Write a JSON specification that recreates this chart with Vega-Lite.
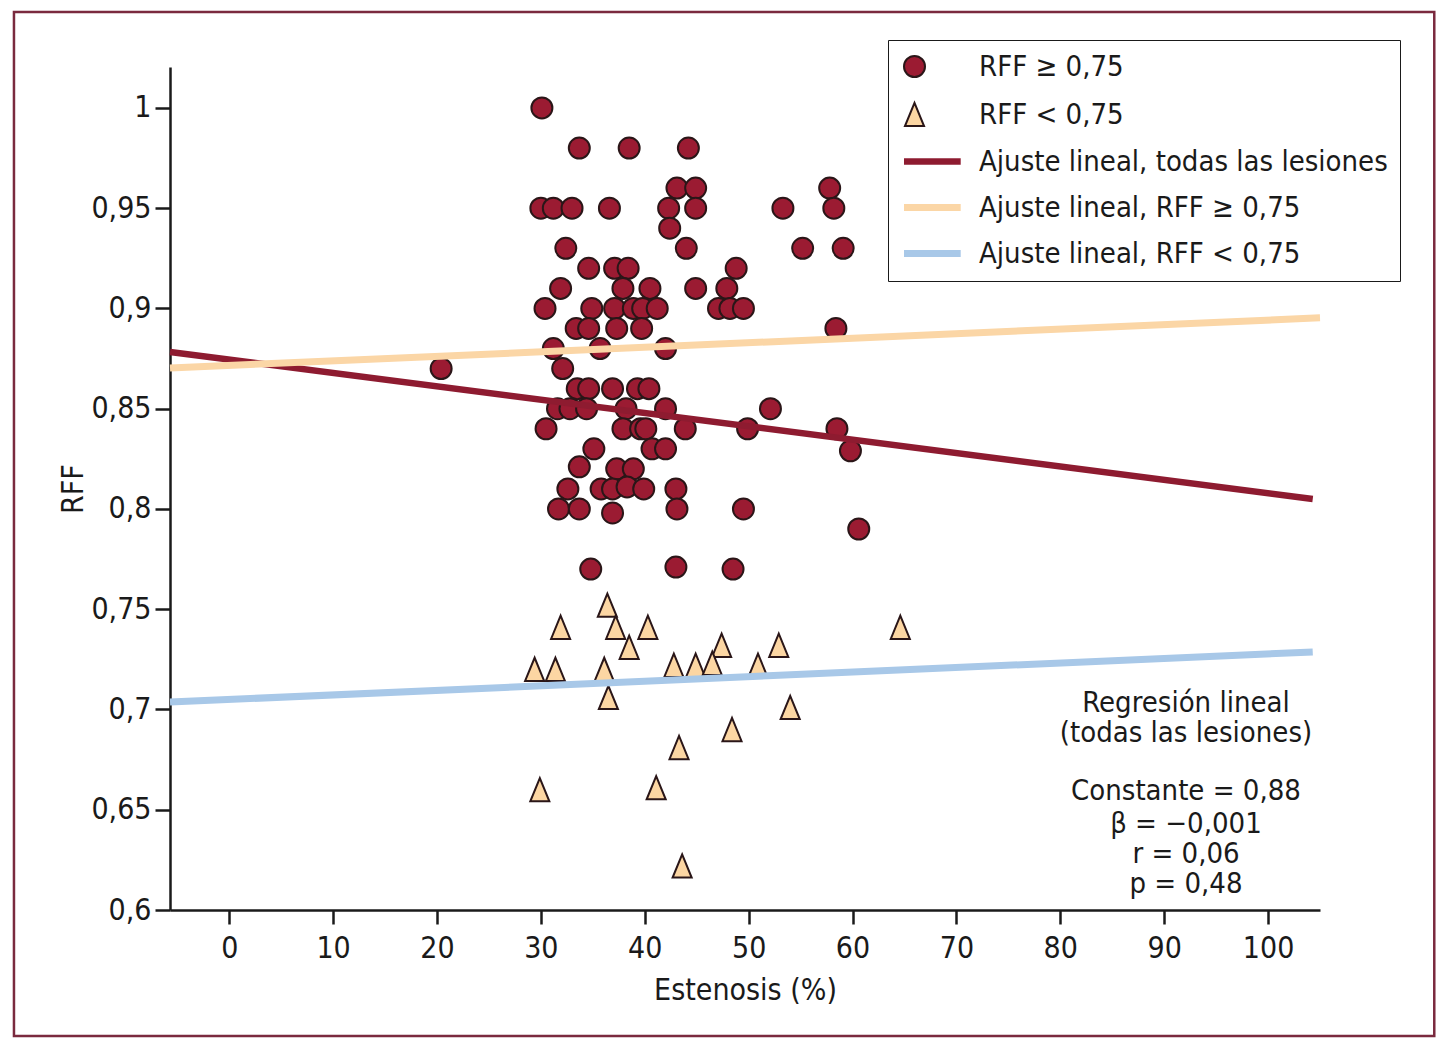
{
  "$schema": "https://vega.github.io/schema/vega-lite/v6.json",
  "width": 1150,
  "height": 843,
  "autosize": "none",
  "padding": {"left": 170, "top": 67, "right": 130, "bottom": 144},
  "background": "white",
  "datasets": {
    "points": [
      {"x":30.1,"y":1.00,"g":"RFF ≥ 0,75"},
      {"x":33.7,"y":0.98,"g":"RFF ≥ 0,75"},{"x":38.5,"y":0.98,"g":"RFF ≥ 0,75"},{"x":44.2,"y":0.98,"g":"RFF ≥ 0,75"},
      {"x":43.1,"y":0.96,"g":"RFF ≥ 0,75"},{"x":44.9,"y":0.96,"g":"RFF ≥ 0,75"},{"x":57.8,"y":0.96,"g":"RFF ≥ 0,75"},
      {"x":30.0,"y":0.95,"g":"RFF ≥ 0,75"},{"x":31.2,"y":0.95,"g":"RFF ≥ 0,75"},{"x":33.0,"y":0.95,"g":"RFF ≥ 0,75"},{"x":36.6,"y":0.95,"g":"RFF ≥ 0,75"},{"x":42.3,"y":0.95,"g":"RFF ≥ 0,75"},{"x":44.9,"y":0.95,"g":"RFF ≥ 0,75"},{"x":53.3,"y":0.95,"g":"RFF ≥ 0,75"},{"x":58.2,"y":0.95,"g":"RFF ≥ 0,75"},
      {"x":42.4,"y":0.94,"g":"RFF ≥ 0,75"},
      {"x":32.4,"y":0.93,"g":"RFF ≥ 0,75"},{"x":44.0,"y":0.93,"g":"RFF ≥ 0,75"},{"x":55.2,"y":0.93,"g":"RFF ≥ 0,75"},{"x":59.1,"y":0.93,"g":"RFF ≥ 0,75"},
      {"x":34.6,"y":0.92,"g":"RFF ≥ 0,75"},{"x":37.1,"y":0.92,"g":"RFF ≥ 0,75"},{"x":38.4,"y":0.92,"g":"RFF ≥ 0,75"},{"x":48.8,"y":0.92,"g":"RFF ≥ 0,75"},
      {"x":31.9,"y":0.91,"g":"RFF ≥ 0,75"},{"x":37.9,"y":0.91,"g":"RFF ≥ 0,75"},{"x":40.5,"y":0.91,"g":"RFF ≥ 0,75"},{"x":44.9,"y":0.91,"g":"RFF ≥ 0,75"},{"x":47.9,"y":0.91,"g":"RFF ≥ 0,75"},
      {"x":30.4,"y":0.90,"g":"RFF ≥ 0,75"},{"x":34.9,"y":0.90,"g":"RFF ≥ 0,75"},{"x":37.1,"y":0.90,"g":"RFF ≥ 0,75"},{"x":38.9,"y":0.90,"g":"RFF ≥ 0,75"},{"x":39.8,"y":0.90,"g":"RFF ≥ 0,75"},{"x":41.2,"y":0.90,"g":"RFF ≥ 0,75"},{"x":47.1,"y":0.90,"g":"RFF ≥ 0,75"},{"x":48.2,"y":0.90,"g":"RFF ≥ 0,75"},{"x":49.5,"y":0.90,"g":"RFF ≥ 0,75"},
      {"x":33.4,"y":0.89,"g":"RFF ≥ 0,75"},{"x":34.6,"y":0.89,"g":"RFF ≥ 0,75"},{"x":37.3,"y":0.89,"g":"RFF ≥ 0,75"},{"x":39.7,"y":0.89,"g":"RFF ≥ 0,75"},{"x":58.4,"y":0.89,"g":"RFF ≥ 0,75"},
      {"x":31.2,"y":0.88,"g":"RFF ≥ 0,75"},{"x":35.7,"y":0.88,"g":"RFF ≥ 0,75"},{"x":42.0,"y":0.88,"g":"RFF ≥ 0,75"},
      {"x":20.4,"y":0.87,"g":"RFF ≥ 0,75"},{"x":32.1,"y":0.87,"g":"RFF ≥ 0,75"},
      {"x":33.5,"y":0.86,"g":"RFF ≥ 0,75"},{"x":34.6,"y":0.86,"g":"RFF ≥ 0,75"},{"x":36.9,"y":0.86,"g":"RFF ≥ 0,75"},{"x":39.3,"y":0.86,"g":"RFF ≥ 0,75"},{"x":40.4,"y":0.86,"g":"RFF ≥ 0,75"},
      {"x":31.6,"y":0.85,"g":"RFF ≥ 0,75"},{"x":32.8,"y":0.85,"g":"RFF ≥ 0,75"},{"x":34.4,"y":0.85,"g":"RFF ≥ 0,75"},{"x":38.2,"y":0.85,"g":"RFF ≥ 0,75"},{"x":42.0,"y":0.85,"g":"RFF ≥ 0,75"},{"x":52.1,"y":0.85,"g":"RFF ≥ 0,75"},
      {"x":30.5,"y":0.84,"g":"RFF ≥ 0,75"},{"x":37.9,"y":0.84,"g":"RFF ≥ 0,75"},{"x":39.6,"y":0.84,"g":"RFF ≥ 0,75"},{"x":40.1,"y":0.84,"g":"RFF ≥ 0,75"},{"x":43.9,"y":0.84,"g":"RFF ≥ 0,75"},{"x":49.9,"y":0.84,"g":"RFF ≥ 0,75"},{"x":58.5,"y":0.84,"g":"RFF ≥ 0,75"},
      {"x":35.1,"y":0.83,"g":"RFF ≥ 0,75"},{"x":40.7,"y":0.83,"g":"RFF ≥ 0,75"},{"x":42.0,"y":0.83,"g":"RFF ≥ 0,75"},{"x":59.8,"y":0.829,"g":"RFF ≥ 0,75"},
      {"x":33.7,"y":0.821,"g":"RFF ≥ 0,75"},{"x":37.3,"y":0.82,"g":"RFF ≥ 0,75"},{"x":38.9,"y":0.82,"g":"RFF ≥ 0,75"},
      {"x":32.6,"y":0.81,"g":"RFF ≥ 0,75"},{"x":35.8,"y":0.81,"g":"RFF ≥ 0,75"},{"x":36.9,"y":0.81,"g":"RFF ≥ 0,75"},{"x":38.3,"y":0.811,"g":"RFF ≥ 0,75"},{"x":39.9,"y":0.81,"g":"RFF ≥ 0,75"},{"x":43.0,"y":0.81,"g":"RFF ≥ 0,75"},
      {"x":31.7,"y":0.80,"g":"RFF ≥ 0,75"},{"x":33.7,"y":0.80,"g":"RFF ≥ 0,75"},{"x":36.9,"y":0.798,"g":"RFF ≥ 0,75"},{"x":43.1,"y":0.80,"g":"RFF ≥ 0,75"},{"x":49.5,"y":0.80,"g":"RFF ≥ 0,75"},
      {"x":60.6,"y":0.79,"g":"RFF ≥ 0,75"},
      {"x":34.8,"y":0.77,"g":"RFF ≥ 0,75"},{"x":43.0,"y":0.771,"g":"RFF ≥ 0,75"},{"x":48.5,"y":0.77,"g":"RFF ≥ 0,75"},
      {"x":36.4,"y":0.752,"g":"RFF < 0,75"},
      {"x":31.9,"y":0.741,"g":"RFF < 0,75"},{"x":37.2,"y":0.741,"g":"RFF < 0,75"},{"x":40.3,"y":0.741,"g":"RFF < 0,75"},{"x":64.6,"y":0.741,"g":"RFF < 0,75"},
      {"x":38.5,"y":0.731,"g":"RFF < 0,75"},{"x":47.4,"y":0.732,"g":"RFF < 0,75"},{"x":52.9,"y":0.732,"g":"RFF < 0,75"},
      {"x":29.4,"y":0.72,"g":"RFF < 0,75"},{"x":31.4,"y":0.72,"g":"RFF < 0,75"},{"x":36.1,"y":0.72,"g":"RFF < 0,75"},{"x":42.8,"y":0.722,"g":"RFF < 0,75"},{"x":44.9,"y":0.722,"g":"RFF < 0,75"},{"x":46.5,"y":0.723,"g":"RFF < 0,75"},{"x":50.9,"y":0.722,"g":"RFF < 0,75"},
      {"x":36.5,"y":0.706,"g":"RFF < 0,75"},{"x":54.0,"y":0.701,"g":"RFF < 0,75"},
      {"x":48.4,"y":0.690,"g":"RFF < 0,75"},{"x":43.3,"y":0.681,"g":"RFF < 0,75"},
      {"x":29.9,"y":0.660,"g":"RFF < 0,75"},{"x":41.1,"y":0.661,"g":"RFF < 0,75"},
      {"x":43.6,"y":0.622,"g":"RFF < 0,75"}
    ],
    "lines": [
      {"x":-5.7,"y":0.8783,"g":"Ajuste lineal, todas las lesiones"},
      {"x":104.3,"y":0.805,"g":"Ajuste lineal, todas las lesiones"},
      {"x":-5.7,"y":0.8703,"g":"Ajuste lineal, RFF ≥ 0,75"},
      {"x":105.0,"y":0.8953,"g":"Ajuste lineal, RFF ≥ 0,75"},
      {"x":-5.7,"y":0.7037,"g":"Ajuste lineal, RFF < 0,75"},
      {"x":104.3,"y":0.7287,"g":"Ajuste lineal, RFF < 0,75"}
    ],
    "notes": [
      {"x":92.1,"y":0.7032,"t":"Regresión lineal"},
      {"x":92.1,"y":0.6883,"t":"(todas las lesiones)"},
      {"x":92.1,"y":0.6594,"t":"Constante = 0,88"},
      {"x":92.1,"y":0.6429,"t":"β = −0,001"},
      {"x":92.1,"y":0.6279,"t":"r = 0,06"},
      {"x":92.1,"y":0.6130,"t":"p = 0,48"}
    ]
  },
  "layer": [
    {
      "data": {"values": [{"frame": 1}]},
      "mark": {"type": "rect", "fillOpacity": 0, "stroke": "#7a2a3e", "strokeWidth": 2.5},
      "encoding": {
        "x": {"datum": -20.72, "type": "quantitative"},
        "x2": {"datum": 116.0},
        "y": {"datum": 1.0478, "type": "quantitative"},
        "y2": {"datum": 0.5372}
      }
    },
    {
      "data": {"name": "points"},
      "mark": {"type": "point", "filled": true, "opacity": 1},
      "encoding": {
        "x": {"field": "x", "type": "quantitative"},
        "y": {"field": "y", "type": "quantitative"},
        "fill": {"field": "g", "type": "nominal",
          "scale": {"domain": ["RFF ≥ 0,75", "RFF < 0,75", "Ajuste lineal, todas las lesiones", "Ajuste lineal, RFF ≥ 0,75", "Ajuste lineal, RFF < 0,75"],
                    "range": ["#9b1b32", "#fcd6a3", "#ffffff", "#ffffff", "#ffffff"]}},
        "stroke": {"field": "g", "type": "nominal"},
        "shape": {"field": "g", "type": "nominal",
          "scale": {"domain": ["RFF ≥ 0,75", "RFF < 0,75", "Ajuste lineal, todas las lesiones", "Ajuste lineal, RFF ≥ 0,75", "Ajuste lineal, RFF < 0,75"],
                    "range": ["circle", "M-0.82,1L0.82,1L0,-1Z", "M-1,0L4.4,0", "M-1,0L4.4,0", "M-1,0L4.4,0"]}},
        "size": {"field": "g", "type": "ordinal",
          "scale": {"type": "ordinal", "domain": ["RFF ≥ 0,75", "RFF < 0,75", "Ajuste lineal, todas las lesiones", "Ajuste lineal, RFF ≥ 0,75", "Ajuste lineal, RFF < 0,75"],
                    "range": [441, 540, 441, 441, 441]}},
        "strokeWidth": {"field": "g", "type": "ordinal"}
      }
    },
    {
      "data": {"name": "lines"},
      "mark": {"type": "line", "strokeCap": "butt"},
      "encoding": {
        "x": {"field": "x", "type": "quantitative"},
        "y": {"field": "y", "type": "quantitative"},
        "stroke": {"field": "g", "type": "nominal"},
        "strokeWidth": {"field": "g", "type": "ordinal"}
      }
    },
    {
      "data": {"name": "notes"},
      "mark": {"type": "text", "fontSize": 29, "color": "#1a1a1a", "align": "center", "baseline": "middle"},
      "encoding": {
        "x": {"field": "x", "type": "quantitative"},
        "y": {"field": "y", "type": "quantitative"},
        "text": {"field": "t", "type": "nominal"}
      }
    }
  ],
  "encoding": {
    "x": {"type": "quantitative",
      "scale": {"domain": [-5.7, 105], "nice": false, "zero": false},
      "axis": {"title": "Estenosis (%)", "values": [0,10,20,30,40,50,60,70,80,90,100], "tickSize": 14, "labelPadding": 9, "titlePadding": 12, "format": "d"}},
    "y": {"type": "quantitative",
      "scale": {"domain": [0.6, 1.0204], "nice": false, "zero": false},
      "axis": {"title": "RFF", "values": [0.6,0.65,0.7,0.75,0.8,0.85,0.9,0.95,1], "tickSize": 15, "labelPadding": 4, "titlePadding": 2,
               "labelExpr": "replace(format(datum.value, '.2~f'), '.', ',')"}},
    "stroke": {"type": "nominal",
      "scale": {"domain": ["RFF ≥ 0,75", "RFF < 0,75", "Ajuste lineal, todas las lesiones", "Ajuste lineal, RFF ≥ 0,75", "Ajuste lineal, RFF < 0,75"],
                "range": ["#2a1618", "#2a1618", "#8e1b30", "#fbd6a6", "#a8c8e8"]}},
    "strokeWidth": {"type": "ordinal",
      "scale": {"type": "ordinal", "domain": ["RFF ≥ 0,75", "RFF < 0,75", "Ajuste lineal, todas las lesiones", "Ajuste lineal, RFF ≥ 0,75", "Ajuste lineal, RFF < 0,75"],
                "range": [2, 2, 6.5, 7, 7]}}
  },
  "config": {
    "font": "DejaVu Sans Condensed, Liberation Sans, sans-serif",
    "view": {"stroke": null},
    "axis": {
      "grid": false,
      "domainColor": "#1a1a1a",
      "domainWidth": 2.5,
      "tickColor": "#1a1a1a",
      "tickWidth": 2.5,
      "labelColor": "#1a1a1a",
      "titleColor": "#1a1a1a",
      "labelFontSize": 30,
      "titleFontSize": 30,
      "titleFontWeight": "normal",
      "labelFont": "DejaVu Sans Condensed, Liberation Sans, sans-serif",
      "titleFont": "DejaVu Sans Condensed, Liberation Sans, sans-serif"
    },
    "legend": {
      "orient": "none",
      "legendX": 718,
      "legendY": -27,
      "title": null,
      "labelFont": "DejaVu Sans Condensed, Liberation Sans, sans-serif",
      "labelFontSize": 29,
      "labelColor": "#1a1a1a",
      "labelLimit": 600,
      "labelOffset": 50,
      "strokeColor": "#1a1a1a",
      "padding": 12,
      "rowPadding": 16,
      "symbolOpacity": 1
    }
  }
}
